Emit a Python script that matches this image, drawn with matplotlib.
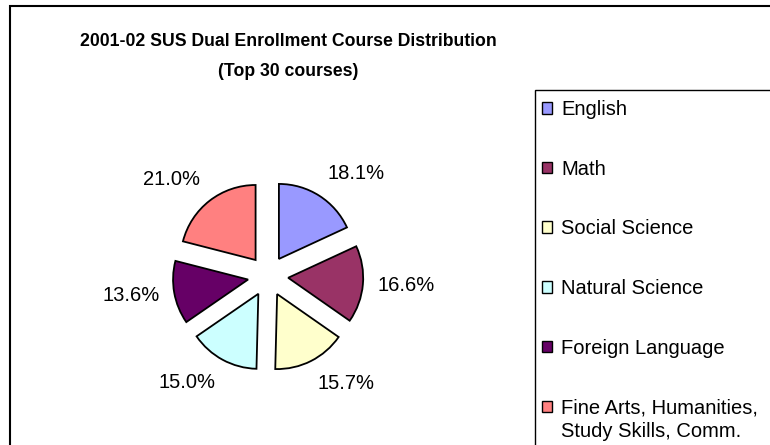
import matplotlib
matplotlib.use("Agg")
import matplotlib.pyplot as plt
from matplotlib.patches import Rectangle

plt.rcParams['font.family'] = ['Liberation Sans', 'DejaVu Sans']

# data
courses = ["English", "Math", "Social Science", "Natural Science",
           "Foreign Language", "Fine Arts, Humanities,"]
last_line = "Study Skills, Comm."   # second line of the last legend entry
shares = [18.1, 16.6, 15.7, 15.0, 13.6, 21.0]
colors = ["#9999FF", "#993366", "#FFFFCC", "#CCFFFF", "#660066", "#FF8080"]

W, H = 770, 445
fig = plt.figure(figsize=(W / 100, H / 100), dpi=100)

# outer chart frame (runs off the right/bottom edge like the reference)
fig.patches.append(Rectangle((10 / W, -0.05), 1.1, (H - 6) / H + 0.05,
                             transform=fig.transFigure, fill=False,
                             edgecolor="black", linewidth=1.5))

fig.text(288 / W, 1 - 41 / H, "2001-02 SUS Dual Enrollment Course Distribution",
         ha="center", va="center", fontsize=12.7, fontweight="bold")
fig.text(288 / W, 1 - 71 / H, "(Top 30 courses)",
         ha="center", va="center", fontsize=12.7, fontweight="bold")

# pie axes: centre at (268, 276) px, radius 75 px
cx, cy, half = 268, 276, 150
ax = fig.add_axes([(cx - half) / W, (H - cy - half) / H, 2 * half / W, 2 * half / H])
wedges, texts = ax.pie(shares, colors=colors, startangle=90, counterclock=False,
                       explode=[0.27] * len(shares), labels=[f"{s:.1f}%" for s in shares],
                       labeldistance=1.2,
                       wedgeprops=dict(edgecolor="black", linewidth=1.3),
                       textprops=dict(fontsize=14.5))
for t in texts:
    y = t.get_position()[1]
    t.set_va("bottom" if y > 0.5 else ("top" if y < -0.5 else "center"))
ax.set_xlim(-2, 2)
ax.set_ylim(-2, 2)
ax.set_aspect("equal")
ax.axis("off")

# legend box
fig.patches.append(Rectangle((535 / W, -0.05), 0.5, (H - 90) / H + 0.05,
                             transform=fig.transFigure, fill=False,
                             edgecolor="black", linewidth=1.0))
leg = fig.legend(wedges, courses, loc="upper left",
                 bbox_to_anchor=(540 / W, 1 - 98 / H),
                 frameon=False, fontsize=14.5, handlelength=0.5, handleheight=0.5,
                 handletextpad=0.45, labelspacing=2.02, borderaxespad=0, borderpad=0.1)
for h in leg.legend_handles:
    h.set_linewidth(1.0)

# put the wrapped second line under the last legend label
fig.canvas.draw()
bb = leg.get_texts()[-1].get_window_extent()
fig.text(bb.x0 / W, (bb.y0 - 5) / H, last_line, ha="left", va="top", fontsize=14.5)

fig.savefig("out.png", dpi=100)
